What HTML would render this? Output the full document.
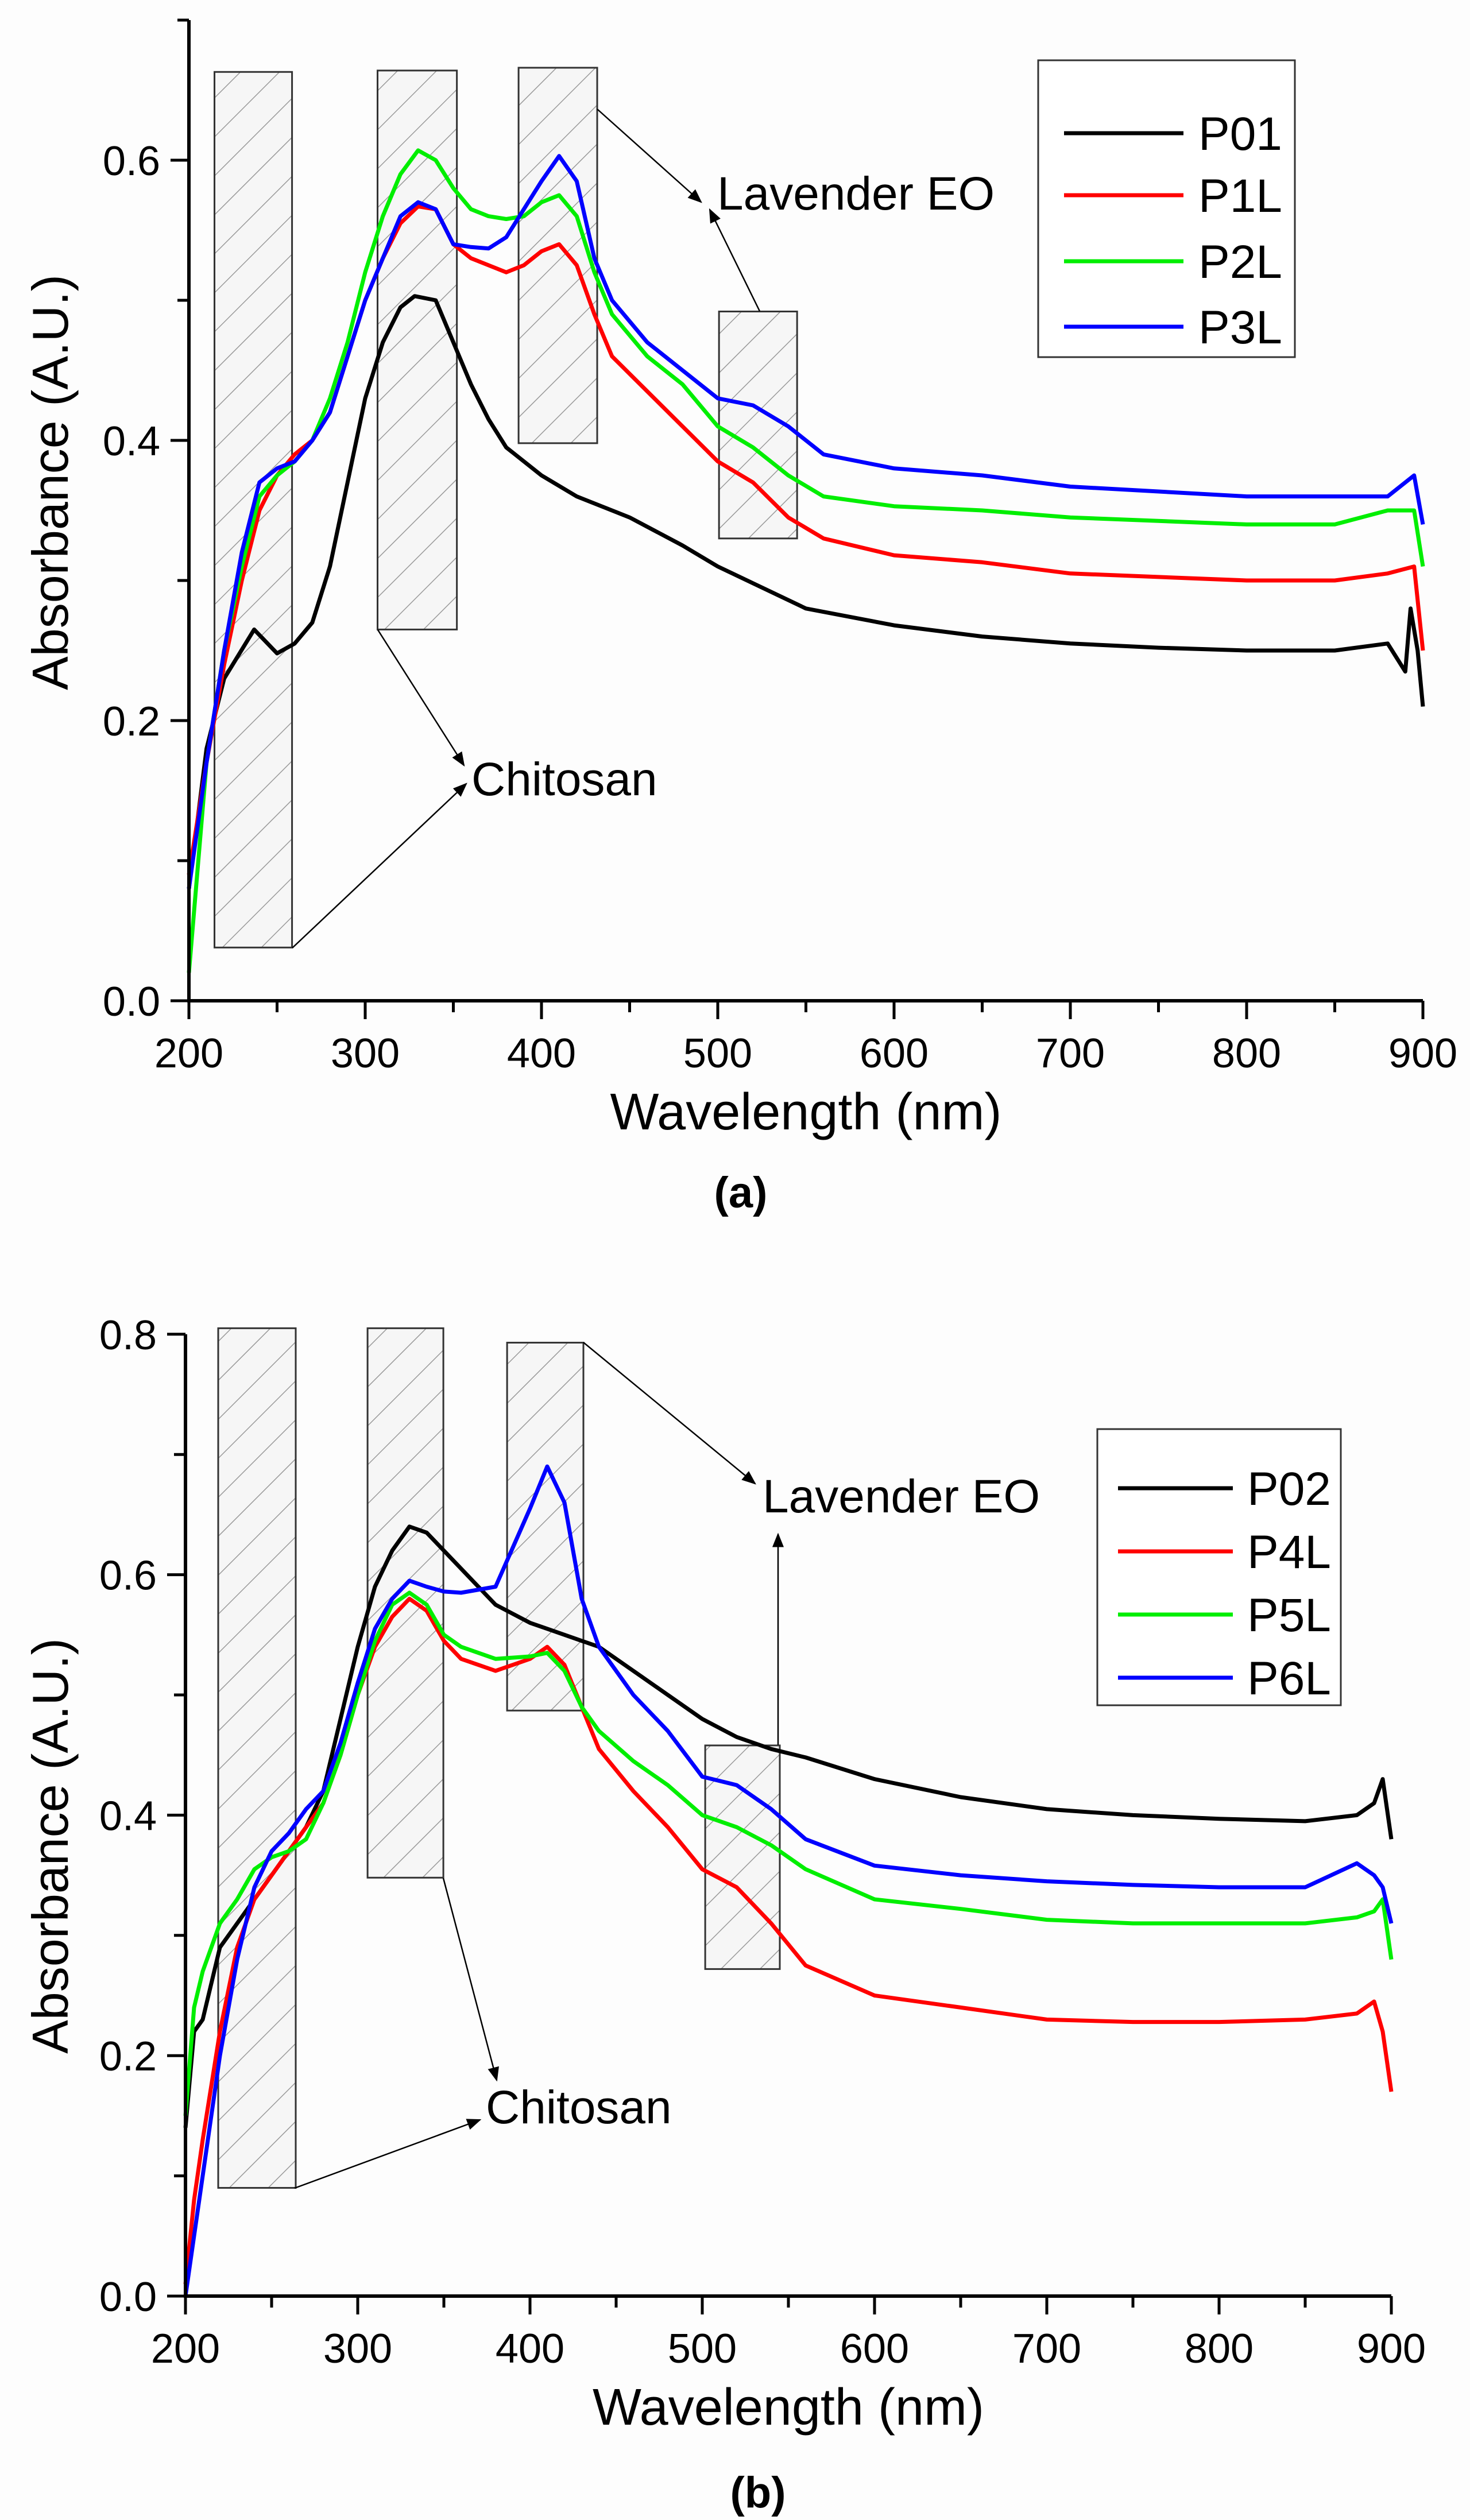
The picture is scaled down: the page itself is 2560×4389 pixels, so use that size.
<!DOCTYPE html>
<html><head><meta charset="utf-8"><style>
html,body{margin:0;padding:0;background:#fdfdfd}
svg{display:block}
text{font-family:"Liberation Sans",Arial,sans-serif;fill:#000}
</style></head><body>
<svg id="fig" width="2560" height="4389" viewBox="0 0 2560 4389" xmlns="http://www.w3.org/2000/svg">
<defs>
<pattern id="hatch" patternUnits="userSpaceOnUse" width="48" height="48" patternTransform="rotate(45)">
<rect width="48" height="48" fill="#f6f6f6"/>
<line x1="0" y1="0" x2="0" y2="48" stroke="#999" stroke-width="3"/>
</pattern>
<marker id="arr" markerWidth="10" markerHeight="8" refX="9" refY="4" orient="auto" markerUnits="strokeWidth">
<path d="M0,0 L10,4 L0,8 Z" fill="#000"/>
</marker>
</defs>
</svg>
<script>
const xsA=[200,210,220,237,250,260,270,280,290,300,310,320,328,340,350,360,370,380,400,420,450,480,500,550,600,650,700,750,800,850,880,890,893,897,900];
const P01=[0.08,0.18,0.23,0.265,0.248,0.255,0.27,0.31,0.37,0.43,0.47,0.495,0.503,0.50,0.47,0.44,0.415,0.395,0.375,0.36,0.345,0.325,0.31,0.28,0.268,0.26,0.255,0.252,0.25,0.25,0.255,0.235,0.28,0.25,0.21];
const xsA2=[200,210,220,230,240,250,260,270,280,290,300,310,320,330,340,350,360,370,380,390,400,410,420,430,440,460,480,500,520,540,560,600,650,700,800,850,880,895,900];
const P1L=[0.09,0.17,0.24,0.30,0.35,0.375,0.39,0.40,0.42,0.46,0.50,0.53,0.555,0.567,0.565,0.54,0.53,0.525,0.52,0.525,0.535,0.54,0.525,0.49,0.46,0.435,0.41,0.385,0.37,0.345,0.33,0.318,0.313,0.305,0.30,0.30,0.305,0.31,0.25];
const P2L=[0.02,0.17,0.25,0.31,0.36,0.375,0.385,0.40,0.43,0.47,0.52,0.56,0.59,0.607,0.60,0.58,0.565,0.56,0.558,0.56,0.57,0.575,0.56,0.52,0.49,0.46,0.44,0.41,0.395,0.375,0.36,0.353,0.35,0.345,0.34,0.34,0.35,0.35,0.31];
const P3L=[0.08,0.17,0.25,0.32,0.37,0.38,0.385,0.40,0.42,0.46,0.50,0.53,0.56,0.57,0.565,0.54,0.538,0.537,0.545,0.565,0.585,0.603,0.585,0.53,0.50,0.47,0.45,0.43,0.425,0.41,0.39,0.38,0.375,0.367,0.36,0.36,0.36,0.375,0.34];
const xsB=[200,205,210,220,230,240,250,260,270,280,290,300,310,320,330,340,350,360,380,400,410,420,430,440,460,480,500,520,540,560,600,650,700,750,800,850,880,890,895,900];
const P02=[0.14,0.22,0.23,0.29,0.31,0.33,0.35,0.37,0.39,0.42,0.48,0.54,0.59,0.62,0.64,0.635,0.62,0.605,0.575,0.56,0.555,0.55,0.545,0.54,0.52,0.50,0.48,0.465,0.455,0.448,0.43,0.415,0.405,0.40,0.397,0.395,0.40,0.41,0.43,0.38];
const P4L=[0.01,0.08,0.13,0.22,0.29,0.33,0.35,0.37,0.39,0.41,0.45,0.50,0.54,0.565,0.58,0.57,0.545,0.53,0.52,0.53,0.54,0.525,0.49,0.455,0.42,0.39,0.355,0.34,0.31,0.275,0.25,0.24,0.23,0.228,0.228,0.23,0.235,0.245,0.22,0.17];
const P5L=[0.15,0.24,0.27,0.31,0.33,0.355,0.365,0.37,0.38,0.41,0.45,0.50,0.545,0.575,0.585,0.575,0.55,0.54,0.53,0.532,0.535,0.52,0.49,0.47,0.445,0.425,0.40,0.39,0.375,0.355,0.33,0.322,0.313,0.31,0.31,0.31,0.315,0.32,0.33,0.28];
const P6L=[0.0,0.05,0.10,0.20,0.28,0.34,0.37,0.385,0.405,0.42,0.46,0.51,0.555,0.58,0.595,0.59,0.586,0.585,0.59,0.655,0.69,0.66,0.58,0.54,0.50,0.47,0.432,0.425,0.405,0.38,0.358,0.35,0.345,0.342,0.34,0.34,0.36,0.35,0.34,0.31];
const xTicks=[200,300,400,500,600,700,800,900];
const yTicksA=[0.0,0.2,0.4,0.6];
const yTicksB=[0.0,0.2,0.4,0.6,0.8];
const legendA=["P01","P1L","P2L","P3L"];
const legendB=["P02","P4L","P5L","P6L"];
const colors=["#000000","#ff0000","#00ee00","#0000ff"];

const NS="http://www.w3.org/2000/svg";
const svg=document.getElementById('fig');
function mk(tag,attrs,parent){const e=document.createElementNS(NS,tag);for(const k in attrs)e.setAttribute(k,attrs[k]);(parent||svg).appendChild(e);return e;}

function panel(cfg){
  const g=mk('g',{});
  
  
  const X=v=>cfg.x0+(v-200)*(cfg.x1-cfg.x0)/700;
  const Y=v=>cfg.y0-v*cfg.ky;
  // boxes
  cfg.boxes.forEach((b,i)=>{
    const r=mk('rect',{x:X(b[0]),y:Y(b[3]),width:X(b[1])-X(b[0]),height:Y(b[2])-Y(b[3]),fill:'url(#hatch)',stroke:'#333','stroke-width':3},g);
    
    
  });
  // series
  cfg.series.forEach((s,i)=>{
    const d=s.x.map((xv,j)=>(j?'L':'M')+X(xv).toFixed(1)+','+Y(s.y[j]).toFixed(1)).join('');
    const p=mk('path',{d:d,fill:'none',stroke:colors[i],'stroke-width':7,'stroke-linejoin':'round'},g);
    
    
  });
  // arrows
  cfg.arrows.forEach((a,i)=>{
    const l=mk('line',{x1:a[0],y1:a[1],x2:a[2],y2:a[3],stroke:'#000','stroke-width':2.5,'marker-end':'url(#arr)'},g);
    
    
  });
  // axes
  const ax=mk('path',{d:`M${cfg.x0},${Y(cfg.ytop)}L${cfg.x0},${cfg.y0}L${cfg.x1},${cfg.y0}`,fill:'none',stroke:'#000','stroke-width':6},g);
  
  
  for(let v=200;v<=900;v+=50){
    const major=v%100===0;
    mk('line',{x1:X(v),y1:cfg.y0,x2:X(v),y2:cfg.y0+(major?32:20),stroke:'#000','stroke-width':5},g);
  }
  xTicks.forEach(v=>{
    const t=mk('text',{x:X(v),y:cfg.y0+116,'text-anchor':'middle','font-size':72},g);
    t.textContent=v;
    
    
  });
  for(let v=0;v<=cfg.ytop+1e-6;v+=0.1){
    const major=Math.round(v*10)%2===0;
    mk('line',{x1:cfg.x0,y1:Y(v),x2:cfg.x0-(major?32:20),y2:Y(v),stroke:'#000','stroke-width':5},g);
  }
  cfg.yTicks.forEach(v=>{
    const t=mk('text',{x:cfg.x0-50,y:Y(v)+26,'text-anchor':'end','font-size':72},g);
    t.textContent=v.toFixed(1);
    
    
  });
  const xt=mk('text',{x:(cfg.x0+cfg.x1)/2,y:cfg.y0+224,'text-anchor':'middle','font-size':90},g);
  xt.textContent='Wavelength (nm)';
  
  
  const yt=mk('text',{x:0,y:0,'text-anchor':'middle','font-size':88,transform:`translate(118,${cfg.ylabY}) rotate(-90)`},g);
  yt.textContent='Absorbance  (A.U.)';
  
  
  // legend
  const L=cfg.leg;
  const lb=mk('rect',{x:L.x,y:L.y,width:L.w,height:L.h,fill:'#fff',stroke:'#333','stroke-width':3},g);
  
  
  cfg.legend.forEach((name,i)=>{
    const yy=L.rows[i];
    const ln=mk('line',{x1:L.lx1,y1:yy,x2:L.lx2,y2:yy,stroke:colors[i],'stroke-width':7},g);
    
    
    const t=mk('text',{x:L.tx,y:yy+29,'font-size':82},g);
    t.textContent=name;
    
    
  });
  cfg.labels.forEach(l=>{
    const t=mk('text',{x:l[1],y:l[2],'font-size':82},g);
    t.textContent=l[0];
    
    
  });
  const c=mk('text',{x:cfg.capX,y:cfg.capY,'text-anchor':'middle','font-size':76,'font-weight':'bold'},g);
  c.textContent=cfg.caption;
  
  
}

panel({name:'panel-a',x0:329,x1:2478,y0:1743,ky:2440,ytop:0.7,yTicks:yTicksA,ylabY:840,
  boxes:[[214.5,258.5,0.038,0.663],[307,352,0.265,0.664],[387,431.6,0.398,0.666],[500.7,545,0.330,0.492]],
  series:[{label:'P01',x:xsA,y:P01},{label:'P1L',x:xsA2,y:P1L},{label:'P2L',x:xsA2,y:P2L},{label:'P3L',x:xsA2,y:P3L}],
  arrows:[[1040,190,1221,352],[1323,542,1236,365],[658,1097,808,1333],[509,1651,812,1365]],
  leg:{x:1808,y:105,w:447,h:517,lx1:1853,lx2:2061,tx:2087,rows:[232,340,455,569]},legend:legendA,
  labels:[['Lavender EO',1249,365,'lavender-eo-label'],['Chitosan',821,1385,'chitosan-label']],
  caption:'(a)',capX:1290,capY:2103});

panel({name:'panel-b',x0:323,x1:2423,y0:3999,ky:2094,ytop:0.8,yTicks:yTicksB,ylabY:3215,
  boxes:[[219,264,0.090,0.805],[305.7,349.7,0.348,0.805],[386.7,431,0.487,0.793],[501.7,545,0.272,0.458]],
  series:[{label:'P02',x:xsB,y:P02},{label:'P4L',x:xsB,y:P4L},{label:'P5L',x:xsB,y:P5L},{label:'P6L',x:xsB,y:P6L}],
  arrows:[[1016,2338,1315,2584],[1355,3039,1355,2672],[772,3271,865,3623],[513,3811,836,3692]],
  leg:{x:1911,y:2489,w:424,h:481,lx1:1947,lx2:2147,tx:2172,rows:[2592,2702,2812,2922]},legend:legendB,
  labels:[['Lavender EO',1328,2634,'lavender-eo-label'],['Chitosan',846,3698,'chitosan-label']],
  caption:'(b)',capX:1320,capY:4367});
</script>
</body></html>
